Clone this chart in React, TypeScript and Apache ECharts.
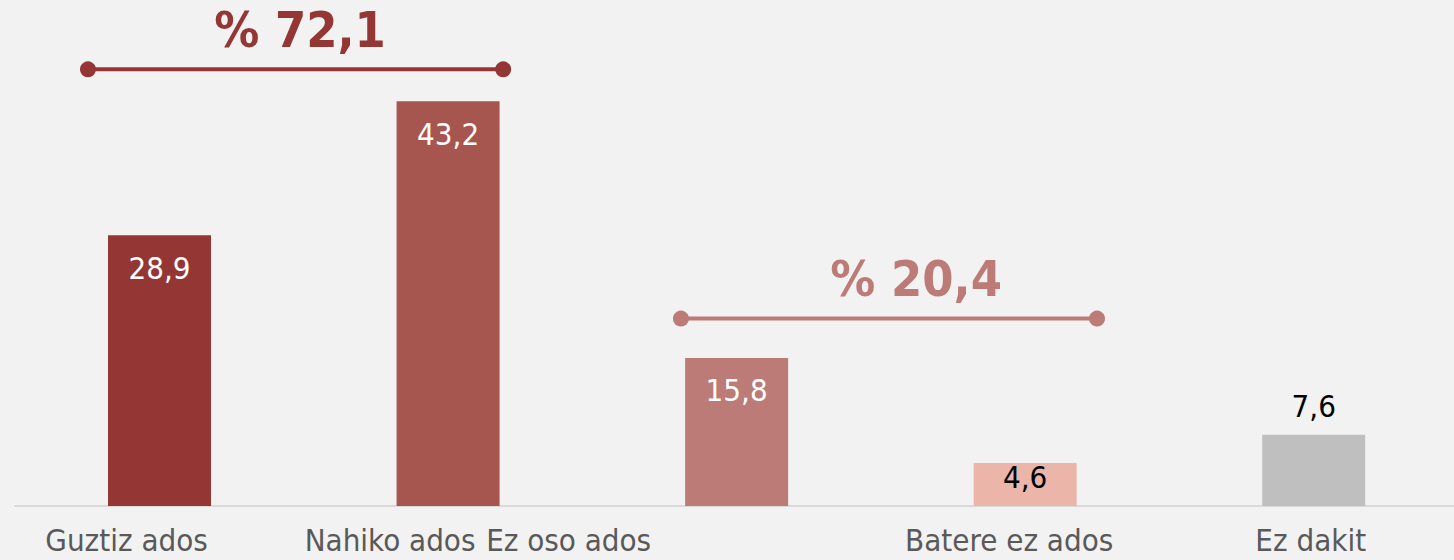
import React, { useEffect, useRef } from "react";
import * as echarts from "echarts";

const categories = ["Guztiz ados", "Nahiko ados", "Ez oso ados", "Batere ez ados", "Ez dakit"];
const values = [28.9, 43.2, 15.8, 4.6, 7.6];
const barColors = ["#943634", "#A7554F", "#BC7B77", "#EBB5AA", "#BFBFBF"];
const groupTotals = [72.1, 20.4];
const groupColors = ["#943634", "#BC7B77"];

// layout of the group brackets (in category units on a hidden value axis)
const bracketSpans = [
  [-0.248, 1.191],
  [1.807, 3.249],
];
const bracketY = [46.6, 20.0];
const bracketTextPos = [
  [0.487, 50.8],
  [2.622, 24.2],
];
// per-category horizontal label shift (px, negative = left)
const labelShift = [-33, -58, -168, -16, -3];

const FONT = "'DejaVu Sans Condensed', 'DejaVu Sans', sans-serif";
const fmt = (v: number) => v.toFixed(1).replace(".", ",");

export default function App() {
  const ref = useRef<HTMLDivElement>(null);
  useEffect(() => {
    if (!ref.current) return;
    document.body.style.overflow = "hidden";
    const chart = echarts.init(ref.current, undefined, { renderer: "svg" });
    const rich: Record<string, any> = {};
    labelShift.forEach((s, i) => {
      rich["c" + i] = {
        fontSize: 31,
        fontFamily: FONT,
        color: "#595959",
        padding: s < 0 ? [0, -2 * s, 0, 0] : [0, 0, 0, 2 * s],
      };
    });
    const barData = values.map((v, i) => {
      let label: any;
      if (i < 3) label = { position: "insideTop", distance: 17, color: "#ffffff" };
      else if (i === 3) label = { position: "insideBottom", distance: 14, color: "#000000" };
      else label = { position: "top", distance: 13, color: "#000000" };
      return { value: v, itemStyle: { color: barColors[i] }, label };
    });
    const bracketSeries = bracketSpans.map((span, g) => ({
      type: "line",
      xAxisIndex: 1,
      yAxisIndex: 0,
      data: [
        [span[0], bracketY[g]],
        [span[1], bracketY[g]],
      ],
      symbol: "circle",
      symbolSize: 16,
      lineStyle: { color: groupColors[g], width: 4 },
      itemStyle: { color: groupColors[g] },
      silent: true,
      z: 3,
    }));
    chart.setOption({
      animation: false,
      backgroundColor: "#F2F2F2",
      grid: { left: 15.25, right: 0, top: 0, bottom: 54, containLabel: false },
      xAxis: [
        {
          type: "category",
          data: categories,
          axisLine: { lineStyle: { color: "#D9D9D9", width: 2 } },
          axisTick: { show: false },
          axisLabel: {
            margin: 18,
            formatter: (val: string, idx: number) => `{c${idx}|${val}}`,
            rich,
          },
        },
        { type: "value", min: -0.5, max: 4.5, show: false },
      ],
      yAxis: { type: "value", min: 0, max: 54, show: false, splitLine: { show: false } },
      series: [
        {
          type: "bar",
          xAxisIndex: 0,
          data: barData,
          barWidth: 103,
          label: {
            show: true,
            fontSize: 31,
            fontFamily: FONT,
            formatter: (p: any) => fmt(p.value),
          },
        },
        ...bracketSeries,
        {
          type: "scatter",
          xAxisIndex: 1,
          symbolSize: 1,
          itemStyle: { color: "rgba(0,0,0,0)", opacity: 1 },
          silent: true,
          data: groupTotals.map((t, g) => ({
            value: bracketTextPos[g],
            label: {
              show: true,
              position: "inside",
              formatter: "% " + fmt(t),
              color: groupColors[g],
              opacity: 1,
              fontSize: 50,
              fontWeight: "bold",
              fontFamily: FONT,
            },
          })),
        },
      ],
    });
    return () => chart.dispose();
  }, []);
  return (
    <div
      ref={ref}
      style={{ position: "fixed", left: 0, top: 0, width: 1457.75, height: 560 }}
    />
  );
}
